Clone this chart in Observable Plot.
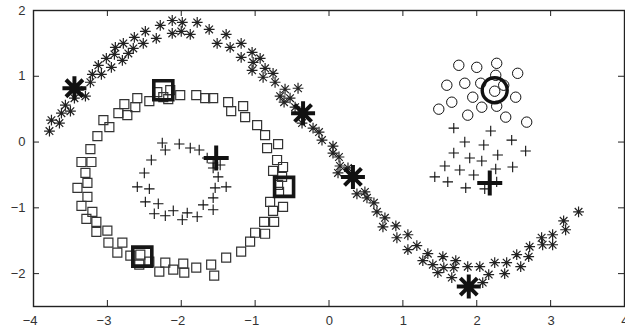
<!DOCTYPE html>
<html>
<head>
<meta charset="utf-8">
<script src="https://cdn.jsdelivr.net/npm/d3@7"></script>
<script src="https://cdn.jsdelivr.net/npm/@observablehq/plot@0.6"></script>
<style>
  html, body { margin: 0; padding: 0; background: #fff; }
  #chart svg { display: block; }
</style>
</head>
<body>
<div id="chart"></div>
<script>
// ---- data ----
const xTicks = [-4, -3, -2, -1, 0, 1, 2, 3, 4];
const yTicks = [-2, -1, 0, 1, 2];

const asteriskPoints = [
  [-3.784,0.167],[-3.757,0.333],[-3.649,0.288],[-3.622,0.439],[-3.500,0.470],[-3.568,0.561],
  [-3.446,0.667],[-3.297,0.697],[-3.392,0.788],[-3.230,0.909],[-3.203,1.030],[-3.081,1.030],
  [-3.122,1.167],[-3.014,1.273],[-2.946,1.136],[-2.905,1.333],[-2.892,1.439],[-2.797,1.242],
  [-2.784,1.500],[-2.716,1.348],[-2.649,1.424],[-2.635,1.591],[-2.514,1.500],[-2.486,1.682],
  [-2.338,1.576],[-2.284,1.773],[-2.122,1.652],[-2.122,1.848],[-2.000,1.682],[-1.986,1.818],
  [-1.878,1.636],[-1.784,1.818],[-1.622,1.712],[-1.514,1.500],[-1.392,1.636],[-1.338,1.439],
  [-1.189,1.500],[-1.189,1.288],[-1.041,1.364],[-1.027,1.212],[-1.041,1.091],[-0.932,1.273],
  [-0.865,1.121],[-0.892,0.985],[-0.757,1.045],[-0.730,0.909],[-0.595,0.803],[-0.419,0.818],
  [-0.662,0.697],[-0.527,0.667],[-0.608,0.606],[-0.459,0.530],[-0.365,0.288],[-0.216,0.212],
  [-0.135,0.152],[-0.095,0.030],[0.054,-0.061],[0.054,-0.167],[0.135,-0.227],[0.149,-0.364],
  [0.257,-0.394],[0.122,-0.470],[0.378,-0.788],[0.486,-0.758],[0.514,-0.848],[0.608,-0.924],
  [0.649,-1.061],[0.757,-1.152],[0.730,-1.288],[0.905,-1.273],[0.919,-1.455],[1.068,-1.409],
  [1.068,-1.636],[1.189,-1.576],[1.338,-1.697],[1.270,-1.803],[1.405,-1.864],[1.541,-1.742],
  [1.473,-1.985],[1.554,-1.909],[1.716,-1.803],[1.689,-1.909],[1.662,-2.061],[1.878,-1.894],
  [2.041,-1.894],[2.081,-2.136],[2.162,-2.015],[2.243,-1.833],[2.378,-2.000],[2.405,-1.833],
  [2.541,-1.712],[2.595,-1.894],[2.703,-1.742],[2.716,-1.591],[2.878,-1.455],[2.892,-1.561],
  [3.027,-1.409],[3.027,-1.561],[3.176,-1.197],[3.203,-1.333],[3.378,-1.061]
];
const asteriskCenters = [[-3.446,0.818],[-0.351,0.439],[0.324,-0.530],[1.892,-2.197]];

const squarePoints = [
  [-2.595,0.667],[-2.622,0.530],[-2.770,0.576],[-2.851,0.439],[-2.730,0.409],[-3.054,0.333],
  [-2.973,0.227],[-3.135,0.091],[-3.230,-0.106],[-3.351,-0.303],[-3.216,-0.303],[-3.297,-0.470],
  [-3.270,-0.621],[-3.405,-0.697],[-3.270,-0.833],[-3.351,-0.970],[-3.203,-1.061],[-3.284,-1.167],
  [-3.149,-1.212],[-3.149,-1.364],[-3.000,-1.348],[-2.986,-1.530],[-2.797,-1.530],[-2.865,-1.682],
  [-2.689,-1.727],[-2.554,-1.712],[-2.432,-1.818],[-2.568,-1.864],[-2.297,-1.970],[-2.216,-1.833],
  [-2.108,-1.939],[-1.973,-1.848],[-1.959,-1.985],[-1.797,-1.909],[-1.595,-1.864],[-1.554,-2.030],
  [-1.392,-1.758],[-1.189,-1.667],[-1.068,-1.515],[-1.000,-1.379],[-0.865,-1.394],[-0.878,-1.212],
  [-0.743,-1.212],[-0.757,-1.045],[-0.797,-0.909],[-0.622,-0.985],[-0.676,-0.758],[-0.689,-0.652],
  [-0.635,-0.530],[-0.757,-0.439],[-0.622,-0.379],[-0.703,-0.273],[-0.838,-0.091],[-0.689,-0.030],
  [-0.865,0.106],[-0.973,0.258],[-1.135,0.379],[-1.162,0.545],[-1.324,0.470],[-1.365,0.606],
  [-1.568,0.667],[-1.676,0.667],[-1.797,0.712],[-2.014,0.712],[-2.149,0.788],[-2.243,0.682],
  [-2.324,0.758],[-2.176,0.652],[-2.432,0.621]
];
const squareCenters = [[-2.243,0.788],[-2.527,-1.742],[-0.608,-0.682]];

const plusRingPoints = [
  [-2.257,-0.015],[-2.216,-0.121],[-2.027,-0.030],[-1.878,-0.091],[-1.757,-0.121],[-1.649,-0.242],
  [-1.568,-0.318],[-1.473,-0.348],[-1.568,-0.394],[-1.500,-0.530],[-1.541,-0.697],[-1.392,-0.682],
  [-1.568,-0.848],[-1.703,-0.955],[-1.568,-1.030],[-1.784,-1.136],[-1.919,-1.076],[-1.986,-1.182],
  [-2.108,-1.045],[-2.216,-1.121],[-2.365,-1.091],[-2.311,-0.939],[-2.486,-0.909],[-2.595,-0.682],
  [-2.432,-0.712],[-2.500,-0.470],[-2.405,-0.273]
];
const plusBlobPoints = [
  [1.689,0.212],[2.189,0.167],[1.838,0.000],[2.095,-0.045],[2.473,0.030],[2.662,-0.136],
  [1.689,-0.167],[1.905,-0.242],[2.068,-0.288],[2.284,-0.197],[1.568,-0.364],[1.770,-0.424],
  [1.959,-0.500],[2.257,-0.409],[2.486,-0.379],[1.432,-0.530],[1.608,-0.606],[1.851,-0.697],
  [2.108,-0.712],[2.270,-0.606]
];
const plusCenters = [[-1.527,-0.242],[2.176,-0.621]];

const circlePoints = [
  [1.757,1.167],[2.000,1.136],[2.270,1.197],[2.554,1.045],[2.257,1.015],[1.595,0.864],
  [1.838,0.894],[2.054,0.894],[2.365,0.864],[2.243,0.773],[1.946,0.682],[1.662,0.606],
  [1.486,0.500],[2.068,0.530],[2.270,0.545],[2.527,0.682],[1.878,0.409],[2.392,0.379],
  [2.676,0.303]
];
const circleCenters = [[2.243,0.788]];

// ---- MATLAB-like marker shapes ----
const rOf = size => Math.sqrt(size / Math.PI);
const mSquare = { draw(ctx, size) { const r = rOf(size); ctx.rect(-r, -r, 2 * r, 2 * r); } };
const mPlus = { draw(ctx, size) { const r = rOf(size);
  ctx.moveTo(-r, 0); ctx.lineTo(r, 0); ctx.moveTo(0, -r); ctx.lineTo(0, r); } };
const mAsterisk = { draw(ctx, size) { const r = rOf(size), d = r * Math.SQRT1_2;
  ctx.moveTo(-r, 0); ctx.lineTo(r, 0); ctx.moveTo(0, -r); ctx.lineTo(0, r);
  ctx.moveTo(-d, -d); ctx.lineTo(d, d); ctx.moveTo(-d, d); ctx.lineTo(d, -d); } };
const mCircle = { draw(ctx, size) { const r = rOf(size); ctx.moveTo(r, 0); ctx.arc(0, 0, r, 0, 2 * Math.PI); } };

const fmt = d => d < 0 ? "\u2212" + Math.abs(d) : String(d);
const W = 625, H = 332, ML = 33, MR = 1, MT = 10, MB = 26;
const innerW = W - ML - MR, innerH = H - MT - MB, T = 6;

const dotOpts = (symbol, r, stroke, sw) => ({ x: d => d[0], y: d => d[1], symbol, r, stroke, strokeWidth: sw, fill: "none" });

const chart = Plot.plot({
  width: W, height: H,
  marginLeft: ML, marginRight: MR, marginTop: MT, marginBottom: MB,
  style: { fontFamily: "'Liberation Sans', Arial, sans-serif", background: "#fff" },
  x: { domain: [-4, 4] },
  y: { domain: [-2.5, 2] },
  marks: [
    // inward ticks on all four sides
    Plot.ruleX(xTicks, { x: d => d, insetTop: innerH - T, stroke: "#222" }),
    Plot.ruleX(xTicks, { x: d => d, insetBottom: innerH - T, stroke: "#222" }),
    Plot.ruleY(yTicks, { y: d => d, insetRight: innerW - T, stroke: "#222" }),
    Plot.ruleY(yTicks, { y: d => d, insetLeft: innerW - T, stroke: "#222" }),
    Plot.axisX({ ticks: xTicks, tickSize: 0, tickPadding: 9, tickFormat: fmt, textAnchor: "end", dx: 4, fontSize: 13, fill: "#333", label: null }),
    Plot.axisY({ ticks: yTicks, tickSize: 0, tickPadding: 8, tickFormat: fmt, fontSize: 13, fill: "#333", label: null }),
    // small markers
    Plot.dot(squarePoints, dotOpts(mSquare, 4.5, "#333", 1.2)),
    Plot.dot(asteriskPoints, dotOpts(mAsterisk, 5.4, "#222", 1.2)),
    Plot.dot(plusRingPoints, dotOpts(mPlus, 5.2, "#111", 1.1)),
    Plot.dot(plusBlobPoints, dotOpts(mPlus, 5.2, "#111", 1.1)),
    Plot.dot(circlePoints, dotOpts(mCircle, 5.2, "#111", 1)),
    // big centre markers
    Plot.dot(squareCenters, dotOpts(mSquare, 9.5, "#161616", 3.6)),
    Plot.dot(asteriskCenters, dotOpts(mAsterisk, 12, "#111", 4)),
    Plot.dot(plusCenters, dotOpts(mPlus, 12.5, "#111", 4)),
    Plot.dot(circleCenters, dotOpts(mCircle, 12.5, "#111", 3.4)),
    Plot.frame({ stroke: "#222", strokeWidth: 1.4 })
  ]
});
document.getElementById("chart").appendChild(chart);
</script>
</body>
</html>
